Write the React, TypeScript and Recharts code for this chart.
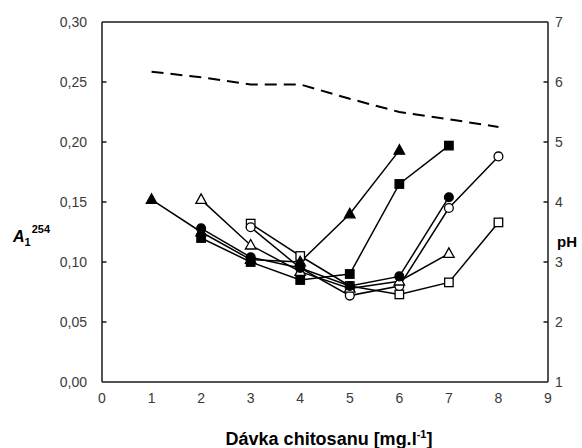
import React from "react";
import { LineChart, Line, XAxis, YAxis, ReferenceLine } from "recharts";

// Doses (x) for each group of series
const dosesFrom1 = [1, 2, 3, 4, 5, 6];
const dosesFrom2 = [2, 3, 4, 5, 6, 7];
const dosesFrom3 = [3, 4, 5, 6, 7, 8];
const phDoses = [1, 2, 3, 4, 5, 6, 7, 8];

// A1^254 values
const filledTriangle = [0.152, 0.125, 0.102, 0.1, 0.14, 0.193];
const openTriangle = [0.152, 0.114, 0.092, 0.078, 0.084, 0.107];
const filledSquare = [0.12, 0.1, 0.085, 0.09, 0.165, 0.197];
const filledCircle = [0.128, 0.104, 0.095, 0.08, 0.088, 0.154];
const openCircle = [0.129, 0.095, 0.072, 0.08, 0.145, 0.188];
const openSquare = [0.132, 0.105, 0.08, 0.073, 0.083, 0.133];

// pH values (dashed line, right axis)
const phValues = [6.17, 6.08, 5.96, 5.96, 5.72, 5.5, 5.38, 5.25];

const xTicks = [0, 1, 2, 3, 4, 5, 6, 7, 8, 9];
const leftTicks = [0, 0.05, 0.1, 0.15, 0.2, 0.25, 0.3];
const rightTicks = [1, 2, 3, 4, 5, 6, 7];

const toData = (xs: number[], ys: number[]) => xs.map((x, i) => ({ x, y: ys[i] }));

const FONT = "'Liberation Sans', Arial, sans-serif";
const TICK_COLOR = "#3a3a3a";
const AXIS_COLOR = "#1a1a1a";

type Shape = "triangle" | "square" | "circle";

function Marker({ cx, cy, shape, filled }: { cx: number; cy: number; shape: Shape; filled: boolean }) {
  if (cx == null || cy == null) return null;
  const fill = filled ? "#000" : "#fff";
  const stroke = "#000";
  const sw = 1.3;
  if (shape === "triangle") {
    const h = 9.5;
    const w = 10.5;
    const pts = `${cx},${cy - h * 0.6} ${cx - w / 2},${cy + h * 0.4} ${cx + w / 2},${cy + h * 0.4}`;
    return <polygon points={pts} fill={fill} stroke={stroke} strokeWidth={sw} />;
  }
  if (shape === "square") {
    const s = 8.5;
    return <rect x={cx - s / 2} y={cy - s / 2} width={s} height={s} fill={fill} stroke={stroke} strokeWidth={sw} />;
  }
  return <circle cx={cx} cy={cy} r={4.4} fill={fill} stroke={stroke} strokeWidth={sw} />;
}

const fmtLeft = (v: number) => v.toFixed(2).replace(".", ",");

const LEFT_MARGIN = 15;
const RIGHT_MARGIN = 7;

function LeftTick(props: any) {
  const { x, y, payload } = props;
  const v = payload.value;
  const axisX = x + LEFT_MARGIN;
  const inner = v > 0 && v < 0.3;
  return (
    <g>
      <text x={x} y={y} dy="0.36em" textAnchor="end" fontFamily={FONT} fontSize={14} fill={TICK_COLOR}>
        {fmtLeft(v)}
      </text>
      {inner && <line x1={axisX} x2={axisX + 4.5} y1={y} y2={y} stroke={AXIS_COLOR} strokeWidth={1.5} />}
    </g>
  );
}

function RightTick(props: any) {
  const { x, y, payload } = props;
  const v = payload.value;
  const axisX = x - RIGHT_MARGIN;
  const inner = v > 1 && v < 7;
  return (
    <g>
      <text x={x} y={y} dy="0.36em" textAnchor="start" fontFamily={FONT} fontSize={14} fill={TICK_COLOR}>
        {String(v)}
      </text>
      {inner && <line x1={axisX} x2={axisX - 4.5} y1={y} y2={y} stroke={AXIS_COLOR} strokeWidth={1.5} />}
    </g>
  );
}

const seriesDefs: { name: string; xs: number[]; ys: number[]; shape: Shape; filled: boolean }[] = [
  { name: "openSquare", xs: dosesFrom3, ys: openSquare, shape: "square", filled: false },
  { name: "openCircle", xs: dosesFrom3, ys: openCircle, shape: "circle", filled: false },
  { name: "openTriangle", xs: dosesFrom2, ys: openTriangle, shape: "triangle", filled: false },
  { name: "filledCircle", xs: dosesFrom2, ys: filledCircle, shape: "circle", filled: true },
  { name: "filledSquare", xs: dosesFrom2, ys: filledSquare, shape: "square", filled: true },
  { name: "filledTriangle", xs: dosesFrom1, ys: filledTriangle, shape: "triangle", filled: true },
];

export default function App() {
  return (
    <div style={{ position: "absolute", left: 0, top: 0, width: 582, height: 448, background: "#fff" }}>
      <LineChart width={582} height={448} margin={{ top: 22, right: 0, bottom: 0, left: 0 }}>
        <XAxis
          type="number"
          dataKey="x"
          domain={[0, 9]}
          ticks={xTicks}
          allowDataOverflow
          tickLine={false}
          tickSize={0}
          tickMargin={11}
          height={66}
          axisLine={{ stroke: AXIS_COLOR, strokeWidth: 1.5 }}
          tick={{ fontFamily: FONT, fontSize: 14, fill: TICK_COLOR }}
          interval={0}
        />
        <YAxis
          yAxisId="left"
          orientation="left"
          type="number"
          domain={[0, 0.3]}
          ticks={leftTicks}
          width={102}
          tickLine={false}
          tickSize={0}
          tickMargin={LEFT_MARGIN}
          axisLine={{ stroke: AXIS_COLOR, strokeWidth: 1.5 }}
          tick={<LeftTick />}
          interval={0}
        />
        <YAxis
          yAxisId="right"
          orientation="right"
          type="number"
          domain={[1, 7]}
          ticks={rightTicks}
          width={34}
          tickLine={false}
          tickSize={0}
          tickMargin={RIGHT_MARGIN}
          axisLine={{ stroke: AXIS_COLOR, strokeWidth: 1.5 }}
          tick={<RightTick />}
          interval={0}
        />
        <ReferenceLine yAxisId="left" y={0.3} stroke={AXIS_COLOR} strokeWidth={1.5} />
        <Line
          yAxisId="right"
          data={toData(phDoses, phValues)}
          dataKey="y"
          type="linear"
          stroke="#000"
          strokeWidth={2}
          strokeDasharray="12 7"
          dot={false}
          isAnimationActive={false}
        />
        {seriesDefs.map((s) => (
          <Line
            key={s.name}
            yAxisId="left"
            data={toData(s.xs, s.ys)}
            dataKey="y"
            type="linear"
            stroke="#000"
            strokeWidth={1.5}
            isAnimationActive={false}
            dot={(p: any) => (
              <Marker key={`${s.name}-${p.index}`} cx={p.cx} cy={p.cy} shape={s.shape} filled={s.filled} />
            )}
            activeDot={false}
          />
        ))}
      </LineChart>
      <svg
        width={582}
        height={448}
        style={{ position: "absolute", left: 0, top: 0, pointerEvents: "none" }}
      >
        <text x={13} y={242} fontFamily={FONT} fontWeight="bold" fill="#000">
          <tspan fontStyle="italic" fontSize={16}>A</tspan>
          <tspan fontSize={11} dy={4}>1</tspan>
          <tspan fontSize={11} dy={-13} dx={1}>254</tspan>
        </text>
        <text x={557} y={247} fontFamily={FONT} fontWeight="bold" fontSize={15} fill="#000">
          pH
        </text>
        <text x={329} y={445} textAnchor="middle" fontFamily={FONT} fontWeight="bold" fontSize={18} fill="#000">
          Dávka chitosanu [mg.l
          <tspan fontSize={11} dy={-7}>-1</tspan>
          <tspan dy={7}>]</tspan>
        </text>
      </svg>
    </div>
  );
}
